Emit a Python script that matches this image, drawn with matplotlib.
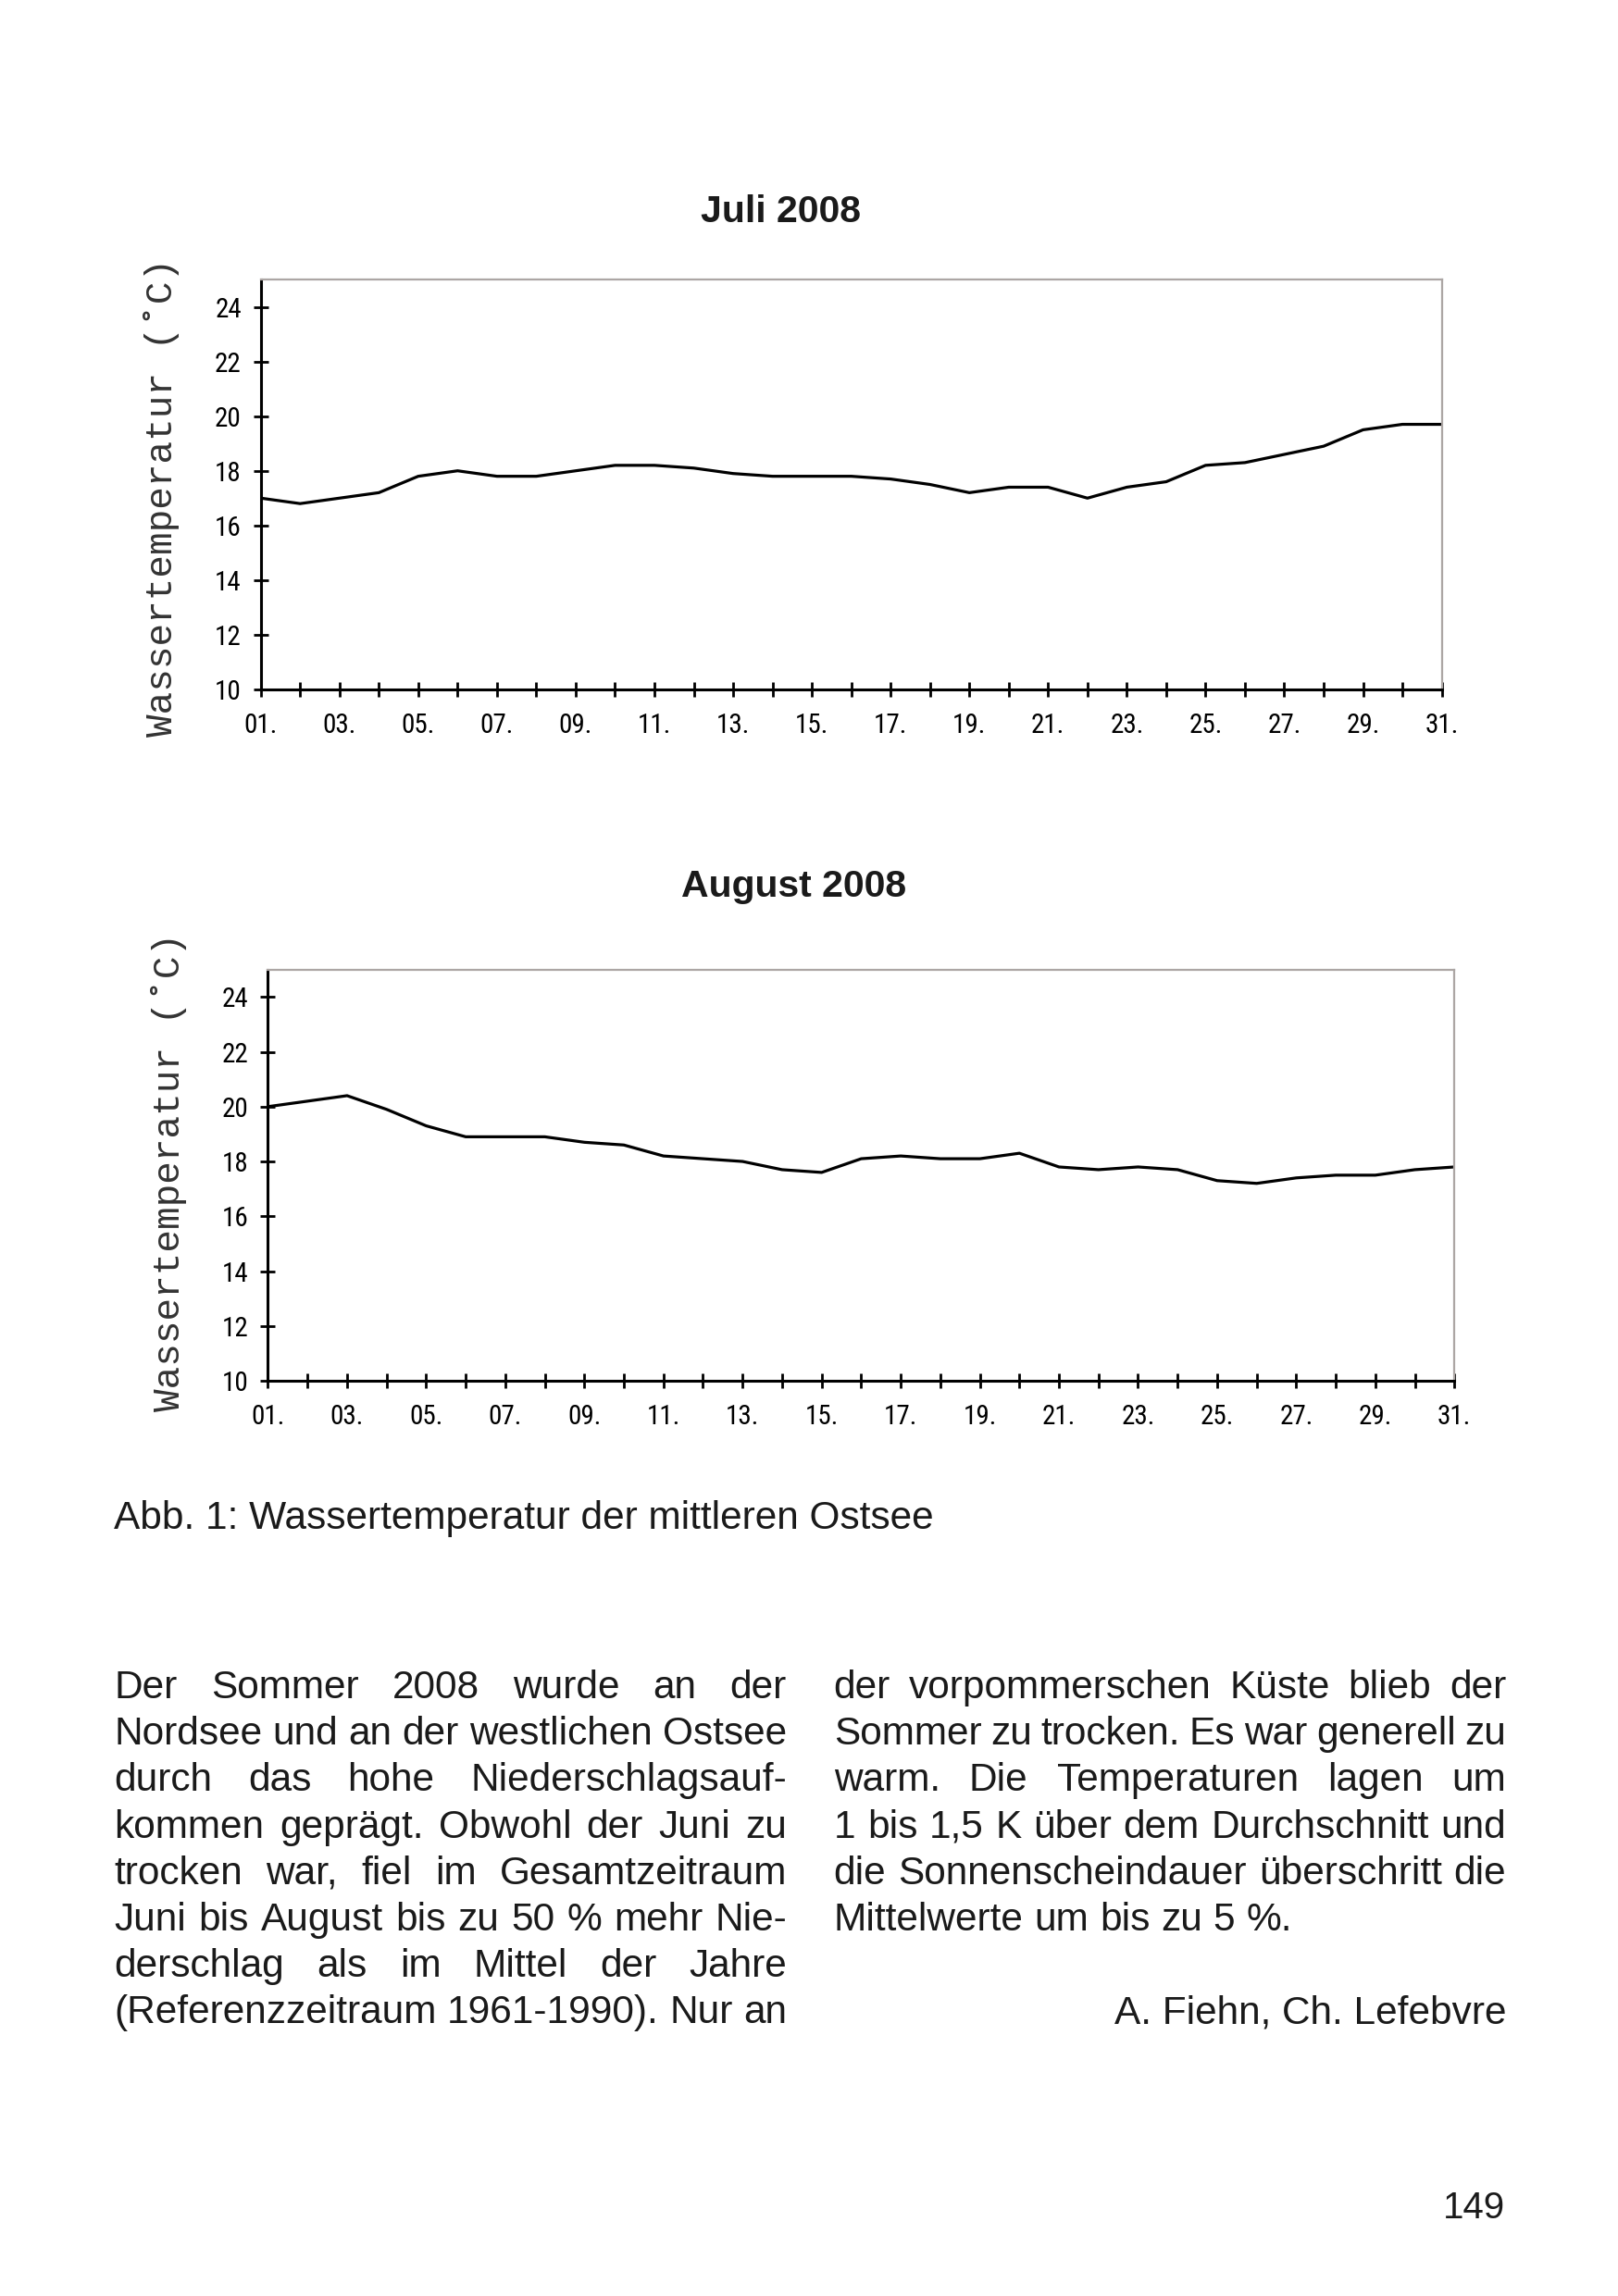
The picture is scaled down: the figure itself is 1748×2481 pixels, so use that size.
import matplotlib
matplotlib.use('Agg')
import matplotlib.pyplot as plt
from matplotlib import font_manager
import numpy as np

# page size in pixels (saved at dpi 100)
W, H = 1749, 2481
DPI = 100

days = np.arange(1, 32)
juli = [17.0, 16.8, 17.0, 17.2, 17.8, 18.0, 17.8, 17.8, 18.0, 18.2,
        18.2, 18.1, 17.9, 17.8, 17.8, 17.8, 17.7, 17.5, 17.2, 17.4,
        17.4, 17.0, 17.4, 17.6, 18.2, 18.3, 18.6, 18.9, 19.5, 19.7, 19.7]
august = [20.0, 20.2, 20.4, 19.9, 19.3, 18.9, 18.9, 18.9, 18.7, 18.6,
          18.2, 18.1, 18.0, 17.7, 17.6, 18.1, 18.2, 18.1, 18.1, 18.3,
          17.8, 17.7, 17.8, 17.7, 17.3, 17.2, 17.4, 17.5, 17.5, 17.7, 17.8]
titles = ['Juli 2008', 'August 2008']
yticks = [10, 12, 14, 16, 18, 20, 22, 24]
xticklabels = ['%02d.' % d if d % 2 else '' for d in days]
ylabel = 'Wassertemperatur (\u02daC)'

caption = 'Abb. 1: Wassertemperatur der mittleren Ostsee'
left_col = ['Der Sommer 2008 wurde an der',
            'Nordsee und an der westlichen Ostsee',
            'durch das hohe Niederschlagsauf-',
            'kommen gepr\u00e4gt. Obwohl der Juni zu',
            'trocken war, fiel im Gesamtzeitraum',
            'Juni bis August bis zu 50 % mehr Nie-',
            'derschlag als im Mittel der Jahre',
            '(Referenzzeitraum 1961-1990). Nur an']
right_col = ['der vorpommerschen K\u00fcste blieb der',
             'Sommer zu trocken. Es war generell zu',
             'warm. Die Temperaturen lagen um',
             '1 bis 1,5 K \u00fcber dem Durchschnitt und',
             'die Sonnenscheindauer \u00fcberschritt die',
             'Mittelwerte um bis zu 5 %.']
authors = 'A. Fiehn, Ch. Lefebvre'
page_no = '149'

names = {f.name for f in font_manager.fontManager.ttflist}
TICK_FONT = 'Liberation Sans'
for cand in ['Liberation Sans Narrow', 'Roboto Condensed', 'Open Sans Condensed']:
    if cand in names:
        TICK_FONT = cand
        break
BODY_FONT = 'Liberation Sans'
MONO_FONT = 'Liberation Mono'
INK = '#1a1a1a'

fig = plt.figure(figsize=(W / DPI, H / DPI), dpi=DPI)
fig.patch.set_facecolor('white')


def fx(px):
    return px / W


def fy(py):
    return 1 - py / H


def chart(rect, values, title, title_xy, label_xy):
    ax = fig.add_axes(rect)
    ax.plot(days, values, color='black', lw=2.3, solid_joinstyle='round')
    ax.set_xlim(1, 31)
    ax.set_ylim(10, 25)
    ax.set_xticks(days)
    ax.set_xticklabels(xticklabels)
    ax.set_yticks(yticks)
    for s in ['left', 'bottom']:
        ax.spines[s].set_color('black')
        ax.spines[s].set_linewidth(2.2)
    for s in ['top', 'right']:
        ax.spines[s].set_color('#aca6a4')
        ax.spines[s].set_linewidth(1.6)
    ax.tick_params(direction='inout', length=12, width=2.0, color='black',
                   labelsize=21)
    ax.tick_params(axis='x', pad=12)
    ax.tick_params(axis='y', pad=9)
    for lab in ax.get_xticklabels() + ax.get_yticklabels():
        lab.set_family(TICK_FONT)
    ax.set_ylabel(ylabel, family=MONO_FONT, fontsize=29.5, color='#333333')
    ax.yaxis.set_label_coords(*label_xy)
    fig.text(fx(title_xy[0]), fy(title_xy[1]), title, family=BODY_FONT,
             fontsize=29.5, fontweight='bold', ha='center', va='center',
             color=INK)
    return ax


chart([281.7 / W, 1 - 745 / H, (1557.6 - 281.7) / W, 443 / H], juli,
      titles[0], (844, 229), (-0.069, 0.468))
chart([289.5 / W, 1 - 1492 / H, (1571.3 - 289.5) / W, 444.3 / H], august,
      titles[1], (858, 958), (-0.068, 0.507))

BODY_SIZE = 30.5
renderer = fig.canvas.get_renderer()


def put_line(line, x0, x1, base, justify):
    words = line.split(' ')
    arts = [fig.text(0, 0, w, family=BODY_FONT, fontsize=BODY_SIZE,
                     color=INK, va='baseline') for w in words]
    widths = [a.get_window_extent(renderer).width for a in arts]
    if justify and len(words) > 1:
        gap = (x1 - x0 - sum(widths)) / (len(words) - 1)
    else:
        gap = 0.278 * BODY_SIZE * DPI / 72
    x = x0
    for a, w in zip(arts, widths):
        a.set_position((fx(x), fy(base)))
        x += w + gap


fig.text(fx(123.5), fy(1652), caption, family=BODY_FONT, fontsize=BODY_SIZE,
         color=INK, va='baseline')

first_base = 1835
step = 50.2
for i, line in enumerate(left_col):
    put_line(line, 123.5, 850, first_base + i * step, True)
for i, line in enumerate(right_col):
    put_line(line, 900.7, 1627.3, first_base + i * step,
             i < len(right_col) - 1)

fig.text(fx(1627.3), fy(first_base + 7 * step), authors, family=BODY_FONT,
         fontsize=BODY_SIZE, color=INK, ha='right', va='baseline')
fig.text(fx(1626), fy(2397), page_no, family=BODY_FONT, fontsize=29,
         color=INK, ha='right', va='baseline')

fig.savefig('out.png', dpi=DPI, facecolor='white')
